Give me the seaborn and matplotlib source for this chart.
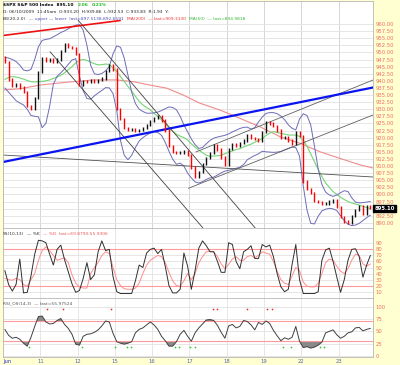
import numpy as np
import matplotlib
matplotlib.use("Agg")
import matplotlib.pyplot as plt
import seaborn as sns
from matplotlib.transforms import blended_transform_factory

sns.set_theme(style="white")
plt.rcParams['font.family'] = ['DejaVu Sans']

# ---------------- data ----------------
day_labels = ["Jun", "11", "12", "15", "16", "17", "18", "19", "22", "23"]
bars_per_day = 10
first_open = 948.5
close = [946.5, 940.5, 938.2, 939.0, 937.6, 936.0, 931.0, 930.2, 934.0, 943.0,
         948.0, 947.0, 947.8, 946.5, 947.5, 950.5, 953.0, 952.0, 951.5, 949.5,
         938.5, 940.0, 939.8, 940.3, 939.7, 940.2, 940.8, 943.5, 945.5, 944.0,
         930.0, 926.5, 923.5, 922.8, 923.0, 922.5, 922.8, 923.5, 924.5, 925.8,
         926.8, 927.5, 926.0, 922.5, 917.0, 915.0, 914.5, 914.8, 915.2, 914.0,
         909.5, 906.0, 908.0, 910.8, 912.7, 914.5, 917.5, 915.8, 913.0, 910.5,
         916.0, 917.8, 917.2, 918.0, 919.0, 920.8, 919.8, 919.5, 918.8, 922.0,
         925.5, 925.0, 924.0, 922.5, 920.0, 920.3, 919.0, 917.8, 921.8, 920.5,
         904.5, 902.0, 900.5, 897.8, 897.2, 896.5, 896.8, 897.5, 898.0, 895.5,
         892.0, 890.5, 890.0, 892.5, 894.5, 896.0, 893.0, 896.0, 895.1]
bb_upper = [948.3, 948.0, 947.5, 946.8, 945.5, 943.8, 943.5, 944.0, 947.5, 952.0,
            954.2, 954.6, 954.8, 955.5, 956.2, 957.0, 957.6, 958.3, 959.0, 959.6,
            959.8, 957.8, 952.5, 945.5, 942.5, 942.2, 942.6, 943.5, 945.0, 949.5,
            952.3, 951.8, 948.0, 942.0, 936.0, 932.0, 930.0, 929.2, 928.6, 928.6,
            928.7, 929.0, 929.5, 930.2, 930.8, 930.6, 929.8, 927.5, 924.5, 922.0,
            919.5, 917.5, 916.2, 916.5, 917.8, 919.0, 919.8, 920.2, 920.5, 920.8,
            921.3, 922.0, 922.6, 923.2, 923.6, 923.7, 923.0, 923.5, 925.5, 927.2,
            928.5, 928.8, 928.8, 928.4, 927.6, 926.3, 924.5, 923.3, 922.7, 926.5,
            928.4, 927.8, 924.5, 917.0, 909.0, 903.5, 900.8, 899.8, 899.3, 899.8,
            900.6, 901.3, 901.0, 898.8, 897.3, 897.0, 897.1, 897.3, 897.5]
bb_lower = [937.5, 936.0, 934.5, 933.0, 932.2, 931.5, 930.0, 927.8, 927.5, 927.3,
            923.5, 925.0, 931.0, 938.8, 941.6, 942.8, 944.2, 945.8, 947.3, 947.8,
            941.5, 936.5, 933.8, 933.5, 934.7, 935.7, 936.6, 937.6, 937.5, 935.5,
            929.5, 919.0, 913.8, 912.2, 913.8, 916.5, 918.8, 920.0, 920.9, 921.6,
            922.1, 921.8, 920.8, 918.3, 915.2, 912.4, 910.6, 911.0, 910.0, 907.5,
            905.8, 904.4, 904.0, 904.5, 905.3, 905.8, 906.1, 906.8, 907.6, 908.2,
            908.5, 908.8, 909.2, 909.6, 910.5, 912.2, 913.0, 913.7, 914.3, 915.2,
            915.0, 914.9, 914.8, 914.9, 915.1, 915.7, 916.2, 916.7, 916.5, 913.5,
            903.0, 894.5, 889.8, 889.6, 892.3, 894.2, 894.8, 895.1, 894.9, 894.3,
            892.5, 890.7, 889.5, 889.0, 889.2, 889.8, 890.8, 891.8, 892.7]
ma50 = [940.5, 941.2, 941.5, 941.3, 941.0, 940.6, 940.1, 939.7, 939.6, 939.7,
        939.8, 940.0, 940.3, 940.8, 941.3, 941.9, 942.8, 943.9, 945.0, 946.3,
        947.2, 947.5, 947.2, 946.6, 946.0, 945.6, 945.7, 945.9, 945.8, 944.5,
        943.3, 941.5, 939.8, 938.0, 936.4, 934.5, 932.8, 931.5, 930.6, 929.8,
        928.5, 927.5, 926.3, 925.0, 923.3, 922.2, 921.2, 920.5, 920.0, 919.2,
        917.8, 916.6, 915.6, 914.7, 913.8, 913.4, 913.5, 913.6, 913.8, 914.3,
        914.9, 915.3, 915.8, 916.1, 916.7, 917.2, 917.7, 918.4, 919.0, 919.6,
        920.7, 921.6, 922.1, 921.8, 921.5, 921.2, 920.9, 920.9, 920.9, 920.4,
        919.0, 917.0, 914.3, 911.5, 908.8, 906.3, 904.0, 902.5, 901.0, 900.0,
        899.0, 898.2, 897.5, 897.0, 896.6, 896.2, 895.8, 895.4, 895.0]
ma200_days = [0.0, 0.46, 0.99, 1.71, 2.42, 3.05, 3.49, 3.94, 4.39, 4.83,
              5.28, 5.82, 6.35, 6.89, 7.43, 7.96, 8.50, 9.03, 9.57, 9.92]
ma200 = [936.8, 937.2, 938.5, 939.5, 940.3, 940.3, 939.7, 938.5, 937.4, 935.0,
         932.1, 929.7, 926.8, 923.8, 920.3, 918.0, 915.0, 912.7, 910.4, 909.3]

ss_k = [45, 22, 11, 22, 64, 8, 9, 36, 72, 95,
        94, 91, 72, 54, 80, 87, 63, 43, 23, 9,
        12, 32, 58, 30, 38, 76, 94, 78, 80, 35,
        10, 7, 7, 7, 7, 28, 54, 50, 74, 80,
        82, 73, 80, 52, 20, 8, 8, 14, 74, 52,
        14, 45, 82, 94, 86, 76, 76, 60, 42, 42,
        91, 88, 60, 48, 76, 80, 86, 65, 65, 88,
        84, 87, 68, 40, 18, 10, 14, 55, 88, 30,
        7, 7, 7, 7, 10, 62, 79, 82, 60, 34,
        9, 30, 62, 80, 81, 68, 34, 54, 70]
ss_d = [32, 30, 29, 32, 30, 22, 19, 30, 40, 62,
        78, 84, 78, 70, 62, 64, 66, 58, 38, 24,
        18, 16, 16, 40, 50, 58, 70, 76, 73, 50,
        30, 20, 15, 14, 14, 16, 24, 40, 54, 62,
        66, 70, 68, 58, 42, 28, 20, 19, 28, 40,
        30, 40, 58, 68, 76, 77, 76, 68, 56, 48,
        55, 64, 68, 62, 62, 68, 70, 66, 70, 76,
        74, 72, 60, 44, 30, 24, 22, 36, 50, 45,
        26, 19, 18, 18, 24, 40, 58, 64, 62, 52,
        44, 40, 48, 62, 72, 70, 56, 52, 56]
rsi = [54, 42, 36, 38, 34, 26, 20, 38, 60, 80,
       81, 69, 65, 66, 72, 76, 64, 56, 44, 24,
       22, 40, 44, 45, 48, 53, 61, 71, 69, 46,
       29, 26, 24, 26, 29, 47, 54, 57, 63, 69,
       63, 54, 40, 31, 20, 20, 29, 44, 52, 40,
       30, 47, 57, 65, 73, 74, 72, 62, 48, 36,
       61, 64, 57, 60, 72, 70, 63, 53, 68, 64,
       71, 66, 52, 41, 31, 37, 34, 38, 60, 30,
       17, 19, 16, 18, 22, 28, 47, 50, 53, 43,
       36, 40, 47, 49, 57, 58, 51, 54, 56]
rsi_sell_days = [1.17, 1.62, 2.90, 5.64, 5.73, 6.53, 7.07, 7.20]
rsi_buy_days = [0.71, 2.11, 3.00, 3.32, 3.42, 4.61, 4.72, 5.01, 5.15,
                7.51, 7.71, 8.50, 8.61]

# trend lines: (day, price) end points
line_red = ([0.0, 3.14], [955.95, 961.23])
line_down_a = ([2.01, 6.76], [961.4, 888.2])
line_down_b = ([1.26, 5.36], [950.25, 888.2])
line_chan_lo = ([4.97, 9.92], [902.15, 927.96])
line_chan_hi = ([5.17, 9.92], [914.93, 940.28])
line_flat = ([0.0, 9.92], [913.87, 906.13])
line_blue = ([0.0, 9.92], [911.41, 937.64])

price_ticks = np.arange(890, 960.01, 2.5)
ss_ticks = [10, 20, 30, 40, 50, 60, 70, 80, 90]
rsi_ticks = [0, 25, 50, 75, 100]

# ---------------- figure ----------------
W, H = 400, 365
YEL = '#ffffd2'
LBL = '#f07060'
GRID = '#e2e2e2'
fig = plt.figure(figsize=(W / 100, H / 100), dpi=100, facecolor=YEL)
renderer = fig.canvas.get_renderer()


def px_axes(x0, y0, x1, y1):
    return fig.add_axes([x0 / W, 1 - y1 / H, (x1 - x0) / W, (y1 - y0) / H])


def seq_text(x, y, pieces, fontsize=3.2, weight='normal', gap=3):
    cur = x
    for s, col in pieces:
        tt = fig.text(cur / W, 1 - y / H, s, va='center', ha='left',
                      fontsize=fontsize, fontweight=weight, color=col)
        cur += tt.get_window_extent(renderer).width + gap


ax1 = px_axes(3, 1, 373, 228)
ax2 = px_axes(3, 228, 373, 298)
ax3 = px_axes(3, 298, 373, 357)

t = (np.arange(len(close)) + 0.5) / bars_per_day
xmax = 9.92

for ax in (ax1, ax2, ax3):
    ax.set_facecolor('white')
    ax.set_xlim(0, xmax)
    ax.set_xticks(range(0, 10))
    ax.grid(True, axis='both', color=GRID, lw=0.6)
    ax.set_axisbelow(True)
    for s in ax.spines.values():
        s.set_color('#b8b8b8')
        s.set_linewidth(0.6)
    ax.yaxis.tick_right()
    ax.tick_params(axis='y', length=0, pad=2, labelsize=3.8, labelcolor=LBL)
    ax.tick_params(axis='x', length=0)
for ax in (ax1, ax2):
    ax.set_xticklabels([])

# ---- price panel ----
ax1.set_ylim(888.17, 968.1)
ax1.set_yticks(price_ticks)
ax1.set_yticklabels([f"{v:.2f}" for v in price_ticks])
ax1.grid(True, axis='x', color='#d0d0d0', lw=0.6)

sns.lineplot(x=ma200_days, y=ma200, ax=ax1, color='#f08c8c', lw=0.8, estimator=None, sort=False)
sns.lineplot(x=t, y=ma50, ax=ax1, color='#74d474', lw=0.8, estimator=None, sort=False)
sns.lineplot(x=t, y=bb_upper, ax=ax1, color='#6c6cb8', lw=0.7, estimator=None, sort=False)
sns.lineplot(x=t, y=bb_lower, ax=ax1, color='#6c6cb8', lw=0.7, estimator=None, sort=False)

for (xs, ys), col, lw in [(line_red, '#ee1111', 1.2), (line_down_a, '#404040', 0.6),
                          (line_down_b, '#404040', 0.6), (line_chan_lo, '#606060', 0.6),
                          (line_chan_hi, '#606060', 0.6), (line_flat, '#505050', 0.6),
                          (line_blue, '#0a14f0', 1.6)]:
    sns.lineplot(x=xs, y=ys, ax=ax1, color=col, lw=lw, estimator=None, sort=False)

c = np.array(close)
o = np.array([first_open] + close[:-1])
hi = np.maximum(o, c) + 0.4
lo = np.minimum(o, c) - 0.4
cols = np.where(c < o, '#ff0000', '#111111')
ax1.vlines(t, lo, hi, colors=cols, lw=1.0)

ax1.set_xlabel('')
ax1.set_ylabel('')

trans1 = blended_transform_factory(ax1.transAxes, ax1.transData)
ax1.text(1.004, close[-1], f"{close[-1]:.2f}", transform=trans1, color='white', fontsize=3.8,
         fontweight='bold', va='center', ha='left',
         bbox=dict(facecolor='black', edgecolor='black', pad=0.9))

# header texts
seq_text(3, 5, [(r"\$SPX S&P 500 Index  895.10", 'black'), ("2.06", '#22bb22'),
                ("0.23%", '#22bb22')], fontsize=3.2, weight='bold', gap=4)
seq_text(3, 12, [("D: 06/10/2009  11:45am  O:933.20  H:939.86  L:932.53  C:933.83  R:1.93  Y:",
                  '#222222')], fontsize=3.2)
seq_text(3, 19, [("BB(20,2.0)", '#333333'), ("— upper — lower  last=897.5138,892.6591", '#5050b8'),
                 ("MA(200)  — last=909.3130", '#ee3333'), ("MA(50)  — last=894.9818", '#33bb33')],
         fontsize=3.2, gap=3)

# ---- slow stochastics ----
ax2.set_ylim(-0.4, 115.3)
ax2.set_yticks(ss_ticks)
ax2.set_yticklabels([str(v) for v in ss_ticks])
for lvl in (20, 80):
    ax2.axhline(lvl, color='#ff9a9a', lw=0.8)
sns.lineplot(x=t, y=ss_d, ax=ax2, color='#ff8c8c', lw=0.7, estimator=None, sort=False)
sns.lineplot(x=t, y=ss_k, ax=ax2, color='#303030', lw=0.7, estimator=None, sort=False)
ax2.set_xlabel('')
ax2.set_ylabel('')
seq_text(3, 234, [("SS(10,13)", '#333333'), ("— %K", '#333333'),
                  ("— %D  last=69.8790,55.9306", '#ee5555')], fontsize=3.2, gap=3)

# ---- RSI ----
ax3.set_ylim(-2, 117.6)
ax3.set_yticks(rsi_ticks)
ax3.set_yticklabels([str(v) for v in rsi_ticks])
r = np.array(rsi, dtype=float)
for lvl in (30, 70):
    ax3.axhline(lvl, color='#ff9a9a', lw=0.8)
ax3.fill_between(t, r, 30, where=r < 30, interpolate=True, color='#8a8a8a', lw=0)
ax3.fill_between(t, r, 70, where=r > 70, interpolate=True, color='#8a8a8a', lw=0)
sns.lineplot(x=t, y=r, ax=ax3, color='#404040', lw=0.7, estimator=None, sort=False)
ax3.scatter(rsi_sell_days, [96] * len(rsi_sell_days), s=1.5, color='#ee2222', lw=0, zorder=5)
ax3.scatter(rsi_buy_days, [19] * len(rsi_buy_days), s=1.5, color='#22cc22', lw=0, zorder=5)
ax3.set_xlabel('')
ax3.set_ylabel('')
seq_text(3, 303, [("RSI_OS(14,3)  — last=55.97524", '#555555')], fontsize=3.2)

ax3.set_xticklabels(day_labels)
ax3.tick_params(axis='x', pad=1.5, labelsize=3.8, labelcolor='#5566aa')
xl = ax3.get_xticklabels()
xl[0].set_ha('left')
xl[0].set_color('#2233cc')

fig.savefig('out.png', dpi=100, facecolor=YEL)
